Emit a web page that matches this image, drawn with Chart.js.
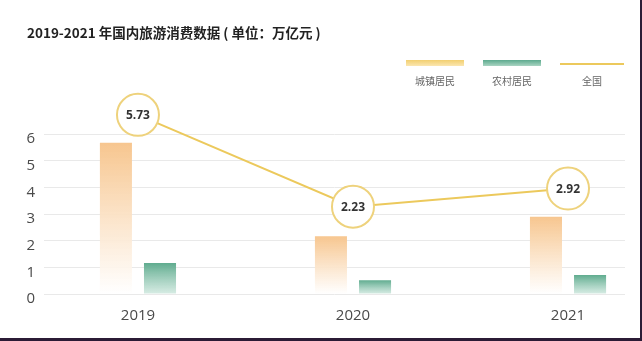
<!DOCTYPE html>
<html>
<head>
<meta charset="utf-8">
<script src="https://cdn.jsdelivr.net/npm/chart.js@4"></script>
<style>
  html, body { margin: 0; padding: 0; background: #2b1b35; }
  #wrap { width: 640px; height: 338px; background: #fff; position: relative; }
</style>
</head>
<body>
<div id="wrap"><canvas id="tourismChart" width="640" height="338"></canvas></div>
<script>
var years = ['2019', '2020', '2021'];
var urbanValues = [5.67, 2.17, 2.90];
var ruralValues = [1.16, 0.52, 0.71];
var totalValues = [5.73, 2.23, 2.92];
var yTicks = [0, 1, 2, 3, 4, 5, 6];
var seriesNames = ['城镇居民', '农村居民', '全国'];

var CJK = '"Noto Sans CJK SC", "Noto Sans", sans-serif';

function toPoints(values) {
    return values.map(function (v, i) { return { x: i, y: v }; });
}

// vertical fade from the top of each bar down to the zero line
function barFade(top, bottom) {
    return function (context) {
        var chart = context.chart;
        var area = chart.chartArea;
        if (!area || context.parsed == null) return top;
        var y = chart.scales.y;
        var g = chart.ctx.createLinearGradient(0, y.getPixelForValue(context.parsed.y), 0, y.getPixelForValue(0));
        g.addColorStop(0, top);
        g.addColorStop(1, bottom);
        return g;
    };
}

var canvas = document.getElementById('tourismChart');
var ctx = canvas.getContext('2d');

var headerPlugin = {
    id: 'header',
    afterDraw: function (chart) {
        var c = chart.ctx;
        c.save();
        c.fillStyle = '#222';
        c.font = 'bold 13.5px ' + CJK;
        c.textBaseline = 'middle';
        c.textAlign = 'left';
        c.fillText('2019-2021 年国内旅游消费数据 ( 单位：万亿元 )', 27, 33);

        // legend: swatch on top, name below
        var centers = [435, 512, 592];
        var widths = [58, 58, 64];
        chart.data.datasets.forEach(function (ds, i) {
            var cx = centers[i], w = widths[i];
            if (i === 2) {
                c.fillStyle = '#ecc95c';
                c.fillRect(cx - w / 2, 63, w, 2);
            } else {
                var g = c.createLinearGradient(0, 60, 0, 66);
                g.addColorStop(0, i === 0 ? '#f2cf70' : '#5daa8e');
                g.addColorStop(1, i === 0 ? '#fbe6b0' : '#a9d4c2');
                c.fillStyle = g;
                c.fillRect(cx - w / 2, 60, w, 6);
            }
            c.fillStyle = '#666';
            c.font = '10px ' + CJK;
            c.textAlign = 'center';
            c.fillText(ds.label, cx, 81);
        });
        c.restore();
    }
};

var bubbleLabels = {
    id: 'bubbleLabels',
    afterDatasetsDraw: function (chart) {
        var meta = chart.getDatasetMeta(2);
        var c = chart.ctx;
        c.save();
        c.fillStyle = '#333';
        c.font = 'bold 12px "Open Sans", sans-serif';
        c.textAlign = 'center';
        c.textBaseline = 'middle';
        meta.data.forEach(function (pt, i) {
            c.fillText(totalValues[i].toFixed(2), pt.x, pt.y + 1);
        });
        c.restore();
    }
};

var chart = new Chart(ctx, {
    type: 'bar',
    data: {
        datasets: [{
            label: seriesNames[0],
            data: toPoints(urbanValues),
            backgroundColor: barFade('rgba(247,198,143,1)', 'rgba(255,255,255,0.9)'),
            borderWidth: 0,
            categoryPercentage: 0.41,
            barPercentage: 0.727,
            order: 2
        }, {
            label: seriesNames[1],
            data: toPoints(ruralValues),
            backgroundColor: barFade('rgba(96,172,143,1)', 'rgba(205,231,221,0.8)'),
            borderWidth: 0,
            categoryPercentage: 0.41,
            barPercentage: 0.727,
            order: 2
        }, {
            type: 'line',
            label: seriesNames[2],
            data: toPoints(totalValues),
            yAxisID: 'y1',
            borderColor: '#ecc95c',
            borderWidth: 2,
            pointRadius: 21,
            pointHoverRadius: 21,
            pointBackgroundColor: '#fff',
            pointBorderColor: '#eed27c',
            pointBorderWidth: 2,
            tension: 0,
            clip: false,
            order: 0
        }]
    },
    options: {
        responsive: false,
        animation: false,
        layout: { autoPadding: false, padding: { left: 0, right: 15, top: 134, bottom: 13 } },
        plugins: {
            legend: { display: false },
            tooltip: { enabled: false },
            title: { display: false }
        },
        scales: {
            x: {
                type: 'linear',
                offset: false,
                min: -0.437,
                max: 2.265,
                grid: { display: false, drawTicks: false, offset: false },
                border: { display: false },
                afterBuildTicks: function (scale) {
                    scale.ticks = years.map(function (y, i) { return { value: i }; });
                },
                afterFit: function (scale) {
                    scale.height = 31;
                    scale.paddingLeft = 0;
                    scale.paddingRight = 0;
                },
                ticks: {
                    padding: 13,
                    color: '#4a4a4a',
                    maxRotation: 0,
                    font: { family: '"Open Sans", sans-serif', size: 15 },
                    callback: function (v) { return years[v]; }
                }
            },
            y: {
                min: 0,
                max: 6,
                afterBuildTicks: function (scale) {
                    scale.ticks = yTicks.map(function (v) { return { value: v }; });
                },
                afterFit: function (scale) { scale.width = 44; },
                grid: { color: '#e9e9e9', lineWidth: 1, drawTicks: false },
                border: { display: false },
                ticks: {
                    padding: 9,
                    labelOffset: 5,
                    color: '#4a4a4a',
                    font: { family: '"Open Sans", sans-serif', size: 15 }
                }
            },
            y1: {
                display: false,
                min: -1.1,
                max: 5.0
            }
        }
    },
    plugins: [headerPlugin, bubbleLabels]
});
</script>
</body>
</html>
